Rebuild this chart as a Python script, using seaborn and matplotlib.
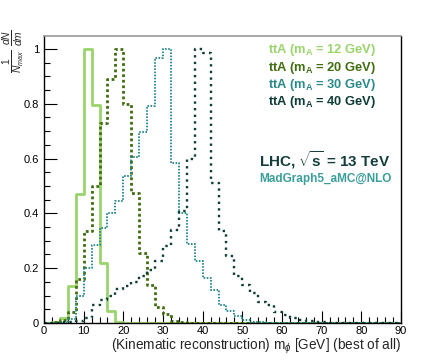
import numpy as np
import pandas as pd
import matplotlib
matplotlib.use("Agg")
import matplotlib.pyplot as plt
import seaborn as sns

# bin edges of the reconstructed mass histogram [GeV]
edges = np.arange(0, 92, 2)
centers = edges[:-1] + 1

# normalised bin contents (1/N_max dN/dm), one value per 2 GeV bin
m12 = [0, 0.003, 0.018, 0.136, 0.47, 1.0, 0.795, 0.22, 0.043, 0.004] + [0] * 35
m20 = [0, 0.002, 0.012, 0.04, 0.16, 0.335, 0.5, 0.73, 0.89, 1.0, 0.80, 0.475,
       0.255, 0.14, 0.06, 0.034, 0.006, 0.002] + [0] * 27
m30 = [0, 0, 0, 0.015, 0.097, 0.2, 0.285, 0.347, 0.40, 0.445, 0.535, 0.605,
       0.695, 0.79, 0.967, 1.0, 0.584, 0.40, 0.29, 0.225, 0.164, 0.122, 0.067,
       0.043, 0.027, 0.012, 0.004, 0.002] + [0] * 17
m40 = [0, 0, 0.002, 0.005, 0.008, 0.02, 0.067, 0.085, 0.10, 0.125, 0.134, 0.148,
       0.17, 0.195, 0.225, 0.28, 0.34, 0.41, 0.60, 1.0, 0.985, 0.51, 0.335,
       0.245, 0.17, 0.14, 0.108, 0.076, 0.067, 0.041, 0.03, 0.02, 0.012, 0.008,
       0.004, 0.002] + [0] * 9

labels = [r"ttA (m$_{\mathbf{A}}$ = 12 GeV)", r"ttA (m$_{\mathbf{A}}$ = 20 GeV)",
          r"ttA (m$_{\mathbf{A}}$ = 30 GeV)", r"ttA (m$_{\mathbf{A}}$ = 40 GeV)"]
colors = ["#9ad46c", "#3f6d10", "#2a8a8a", "#0e3c37"]
styles = [
    dict(linestyle="-", linewidth=2.0),
    dict(linestyle=(0, (1, 1)), linewidth=2.0),
    dict(linestyle=(0, (0.8, 0.8)), linewidth=1.4),
    dict(linestyle=(0, (1, 1.8)), linewidth=1.7),
]

sns.set_theme(style="ticks")
plt.rcParams["font.family"] = ["Liberation Sans", "DejaVu Sans"]
plt.rcParams["mathtext.fontset"] = "custom"
plt.rcParams["mathtext.rm"] = "Liberation Sans"
plt.rcParams["mathtext.it"] = "Liberation Sans:italic"
plt.rcParams["mathtext.bf"] = "Liberation Sans:bold"

fig = plt.figure(figsize=(4.46, 3.6), dpi=100)
ax = fig.add_axes([44 / 446, 37 / 360, 357 / 446, 287 / 360])

series = [m12, m20, m30, m40]
for vals, col, st in zip(series, colors, styles):
    frame = pd.DataFrame({"m": centers, "w": vals})
    sns.histplot(data=frame, x="m", weights="w", binwidth=2, binrange=(0, 90),
                 element="step", fill=False, color=col, ax=ax, **st)

ax.set_xlim(0, 90)
ax.set_ylim(0, 1.047)
ax.set_xticks(np.arange(0, 91, 10))
ax.set_xticks(np.arange(0, 91, 2), minor=True)
ax.set_yticks([0, 0.2, 0.4, 0.6, 0.8, 1.0])
ax.set_yticklabels(["0", "0.2", "0.4", "0.6", "0.8", "1"])
ax.set_yticks(np.arange(0, 1.03, 0.05), minor=True)
ax.tick_params(which="both", direction="in", labelsize=8, colors="black", width=0.8)
ax.tick_params(which="major", length=9)
ax.tick_params(which="minor", length=4.5)
ax.tick_params(axis="x", pad=2)
for side in ["left", "bottom", "right"]:
    ax.spines[side].set_color("black")
    ax.spines[side].set_linewidth(1.0)
ax.spines["top"].set_color("#999999")
ax.spines["top"].set_linewidth(1.2)

ax.set_xlabel(r"(Kinematic reconstruction) m$_{\phi}$ [GeV] (best of all)",
              loc="right", fontsize=9.8, labelpad=1)
ax.set_ylabel("")
fig.text(13 / 446, 1 - 51 / 360, r"$\frac{1}{N_{max}}\ \frac{dN}{dm}$",
         rotation=90, ha="center", va="center", fontsize=10.5)

for i, (lab, col) in enumerate(zip(labels, colors)):
    fig.text(268 / 446, 1 - (50 + i * 17.5) / 360, lab, color=col,
             fontsize=9.3, fontweight="bold", ha="left", va="center")

fig.text(259 / 446, 1 - 160 / 360, r"LHC, $\sqrt{\mathbf{s}}$ = 13 TeV",
         color="#143f3a", fontsize=11, fontweight="bold", ha="left", va="center")
fig.text(259 / 446, 1 - 179 / 360, "MadGraph5_aMC@NLO", color="#3a9e9a",
         fontsize=8.5, fontweight="bold", ha="left", va="center")

fig.savefig("out.png", dpi=100)
